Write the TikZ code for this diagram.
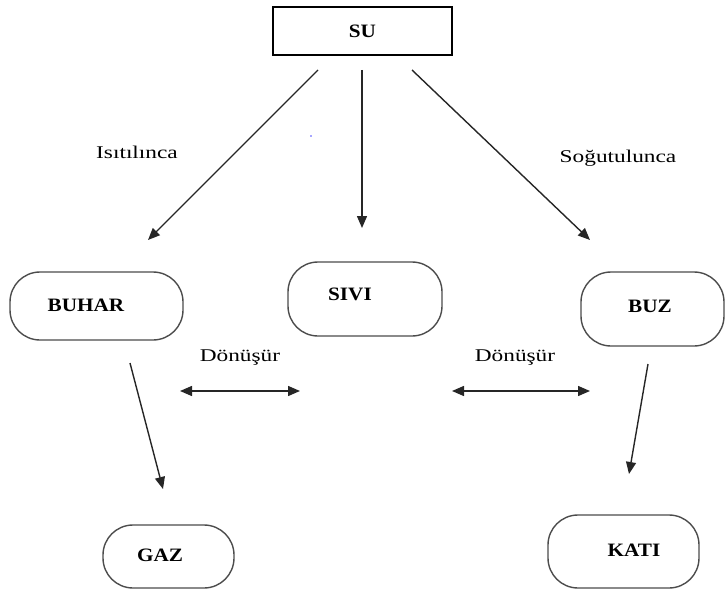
\documentclass[tikz,border=0pt]{standalone}
\usepackage{fontspec}
\setmainfont{Liberation Serif}
\newfontfamily\labelfont[FakeStretch=1.3]{Liberation Serif}
\newfontfamily\boxfont[FakeStretch=1.12]{Liberation Serif}
\usetikzlibrary{arrows.meta}

\begin{document}
\begin{tikzpicture}[x=1bp, y=-1bp,
    pill/.style={draw=black!70, line width=1.4bp, rounded corners=30bp, inner sep=0pt},
    word/.style={inner sep=0pt, font=\boxfont\fontsize{19}{22}\selectfont\bfseries},
    note/.style={inner sep=0pt, font=\labelfont\fontsize{18}{21}\selectfont},
    arr/.style={line width=1.4bp, draw=black!85, -{Triangle[length=12bp, width=10bp]}},
    twoway/.style={line width=1.4bp, draw=black!85, {Triangle[length=12bp, width=10bp]}-{Triangle[length=12bp, width=10bp]}}]
    \useasboundingbox (0,0) rectangle (725,593);

    % boxes
    \node[draw, line width=1.7bp, minimum width=179bp, minimum height=48bp, word] (su) at (362.5,31) {SU};
    \node[pill, minimum width=173bp, minimum height=68bp] (buhar) at (96.5,306) {};
    \node[pill, minimum width=154bp, minimum height=74bp] (sivi) at (365,299) {};
    \node[pill, minimum width=143bp, minimum height=74bp] (buz) at (652.5,309) {};
    \node[pill, minimum width=131bp, minimum height=63bp] (gaz) at (168.5,556.5) {};
    \node[pill, minimum width=151bp, minimum height=73bp] (kati) at (623.5,551.5) {};
    \node[word] (buhar-t) at (86,305) {BUHAR};
    \node[word] (sivi-t) at (350,294) {SIVI};
    \node[word] (buz-t) at (650,306) {BUZ};
    \node[word] (gaz-t) at (160,555) {GAZ};
    \node[word] (kati-t) at (634,550) {KATI};

    % labels
    \node[note] (isit) at (137,152) {Isıtılınca};
    \node[note] (sogut) at (618,158) {Soğutulunca};
    \node[note] (don1) at (240,358) {Dönüşür};
    \node[note] (don2) at (515,358) {Dönüşür};

    % arrow ends
    \coordinate (s1) at (318,70);   \coordinate (e1) at (148,240);
    \coordinate (s2) at (362,70);   \coordinate (e2) at (362,228);
    \coordinate (s3) at (412,70);   \coordinate (e3) at (590,240);
    \coordinate (s4) at (130,363);  \coordinate (e4) at (163,489);
    \coordinate (s5) at (648,364);  \coordinate (e5) at (629,474);
    \coordinate (d1) at (180,391);  \coordinate (d2) at (300,391);
    \coordinate (d3) at (452,391);  \coordinate (d4) at (590,391);

    \draw[arr] (s1) -- (e1);
    \draw[arr] (s2) -- (e2);
    \draw[arr] (s3) -- (e3);
    \draw[arr] (s4) -- (e4);
    \draw[arr] (s5) -- (e5);
    \draw[twoway] (d1) -- (d2);
    \draw[twoway] (d3) -- (d4);

    \fill[blue!70] (311,136) circle (0.9bp);
\end{tikzpicture}
\end{document}
